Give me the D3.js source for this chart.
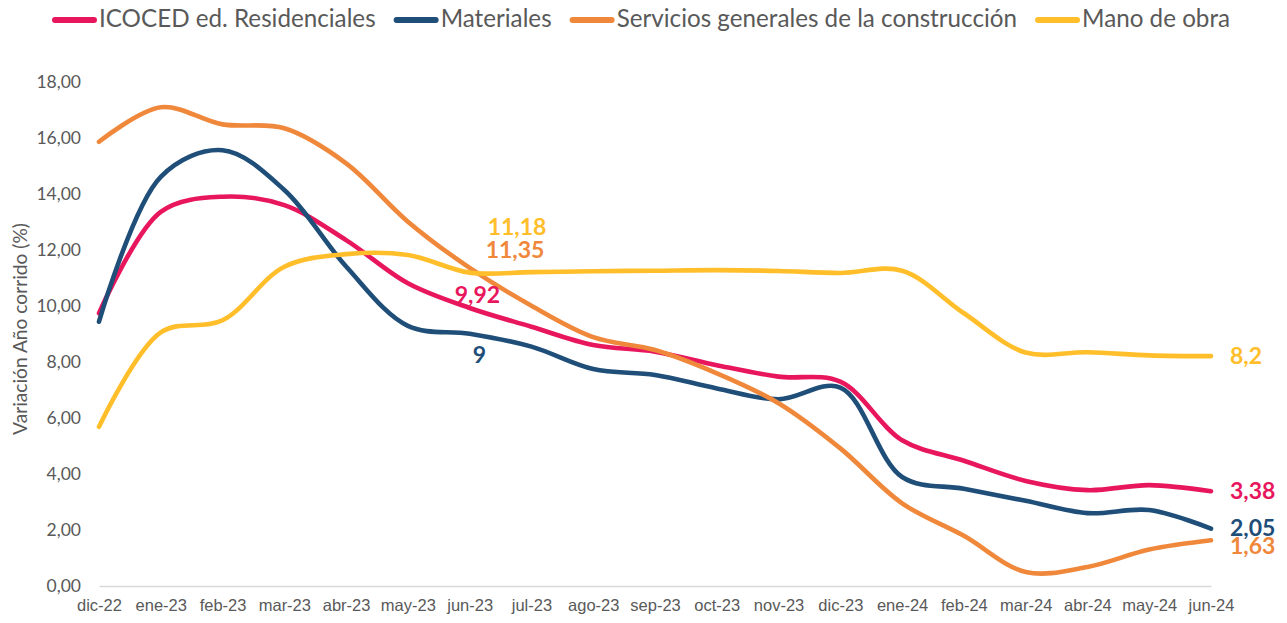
<!DOCTYPE html>
<html>
<head>
<meta charset="utf-8">
<script src="https://cdn.jsdelivr.net/npm/d3@7"></script>
<style>
  html, body { margin: 0; padding: 0; background: #fff; }
  svg { display: block; }
</style>
</head>
<body>
<svg id="chart" width="1287" height="623"></svg>
<script>
// ---------- DATA ----------
const months = ["dic-22","ene-23","feb-23","mar-23","abr-23","may-23","jun-23","jul-23","ago-23","sep-23","oct-23","nov-23","dic-23","ene-24","feb-24","mar-24","abr-24","may-24","jun-24"];
const icoced     = [9.73, 13.35, 13.89, 13.59, 12.34, 10.80, 9.92, 9.25, 8.60, 8.36, 7.88, 7.47, 7.29, 5.20, 4.47, 3.75, 3.42, 3.60, 3.38];
const materiales = [9.43, 14.60, 15.55, 14.13, 11.40, 9.28, 9.00, 8.54, 7.74, 7.53, 7.05, 6.66, 7.08, 3.89, 3.47, 3.04, 2.60, 2.71, 2.05];
const servicios  = [15.85, 17.08, 16.47, 16.33, 15.08, 13.00, 11.35, 10.00, 8.88, 8.42, 7.59, 6.52, 4.91, 2.95, 1.79, 0.50, 0.68, 1.30, 1.63];
const manoObra   = [5.68, 9.05, 9.48, 11.39, 11.84, 11.81, 11.18, 11.20, 11.23, 11.25, 11.27, 11.24, 11.17, 11.25, 9.73, 8.33, 8.34, 8.23, 8.20];
const seriesNames = ["ICOCED ed. Residenciales", "Materiales", "Servicios generales de la construcción", "Mano de obra"];
const seriesColors = ["#E8175D", "#1F4E79", "#F0883C", "#FFBE2A"];
const yTicks = [0, 2, 4, 6, 8, 10, 12, 14, 16, 18];
const yTitle = "Variación Año corrido (%)";
// labelled points: [seriesIndex, monthIndex, text]
const pointLabels = [
  [3, 6, "11,18"], [2, 6, "11,35"], [0, 6, "9,92"], [1, 6, "9"],
  [3, 18, "8,2"], [0, 18, "3,38"], [1, 18, "2,05"], [2, 18, "1,63"]
];

// ---------- LAYOUT ----------
const svg = d3.select("#chart");
const allSeries = [icoced, materiales, servicios, manoObra];
const x = d3.scalePoint().domain(months).range([99, 1211]);
const y = d3.scaleLinear().domain([0, 18]).range([586, 81.5]);
const gray = "#595959";
const axisFont = "'Liberation Sans', Arial, sans-serif";
const txtFont = "Lato, 'Open Sans', sans-serif";

function fitSize(text, family, weight, target, base) {
  const p = svg.append("text").attr("font-family", family).attr("font-weight", weight)
    .attr("font-size", base).text(text);
  const w = p.node().getComputedTextLength();
  p.remove();
  return base * target / w;
}

// y tick labels (no gridlines)
svg.append("g").selectAll("text").data(yTicks).join("text")
  .attr("x", 81).attr("y", d => y(d)).attr("dy", "0.35em")
  .attr("text-anchor", "end")
  .attr("font-family", txtFont).attr("font-size", 17.5).attr("fill", gray)
  .text(d => d3.format(".2f")(d).replace(".", ","));

// x axis line
const xAxis = d3.axisBottom(x).tickSize(0).tickPadding(13);
const gx = svg.append("g").attr("transform", `translate(0,${y(0)})`).call(xAxis);
gx.select(".domain").attr("stroke", "#d9d9d9").attr("stroke-width", 1.5);
gx.selectAll(".tick text").attr("font-family", axisFont).attr("font-size", 16.5).attr("fill", gray);

// y title
const ytFs = fitSize(yTitle, txtFont, 400, 212, 18);
svg.append("text")
  .attr("transform", `translate(20,329) rotate(-90)`)
  .attr("text-anchor", "middle").attr("dy", "0.35em")
  .attr("font-family", txtFont).attr("font-size", ytFs).attr("fill", gray)
  .text(yTitle);

// lines
const line = d3.line()
  .x((d, i) => x(months[i]))
  .y(d => y(d))
  .curve(d3.curveCatmullRom.alpha(0.5));
allSeries.forEach((s, k) => {
  svg.append("path").datum(s)
    .attr("d", line)
    .attr("fill", "none")
    .attr("stroke", seriesColors[k])
    .attr("stroke-width", 4.6)
    .attr("stroke-linecap", "round")
    .attr("stroke-linejoin", "round");
});

// point labels (offsets in px relative to the point)
const labelOffsets = {
  "3-6": [18, -46], "2-6": [16, -18], "0-6": [-15, -13], "1-6": [3, 21],
  "3-18": [19, 0], "0-18": [19, -1], "1-18": [19, -1], "2-18": [19, 5]
};
pointLabels.forEach(([si, mi, t]) => {
  const off = labelOffsets[si + "-" + mi];
  svg.append("text")
    .attr("x", x(months[mi]) + off[0])
    .attr("y", y(allSeries[si][mi]) + off[1])
    .attr("dy", "0.36em")
    .attr("font-family", txtFont).attr("font-weight", 700).attr("font-size", 23)
    .attr("fill", seriesColors[si])
    .text(t);
});

// legend: fit text so the whole legend spans 53..1230
const legend = svg.append("g");
const swW = 46, gapAfter = 19;
const totalText = 1230 - 53 - seriesNames.length * swW - (seriesNames.length - 1) * gapAfter;
const fs = fitSize(seriesNames.join(""), txtFont, 400, totalText, 20);
let lx = 53;
seriesNames.forEach((n, k) => {
  legend.append("line")
    .attr("x1", lx + 2).attr("x2", lx + 41).attr("y1", 20).attr("y2", 20)
    .attr("stroke", seriesColors[k]).attr("stroke-width", 6).attr("stroke-linecap", "round");
  const t = legend.append("text")
    .attr("x", lx + swW).attr("y", 18).attr("dy", "0.36em")
    .attr("font-family", txtFont).attr("font-size", fs).attr("fill", gray)
    .text(n);
  lx = lx + swW + t.node().getComputedTextLength() + gapAfter;
});
</script>
</body>
</html>
